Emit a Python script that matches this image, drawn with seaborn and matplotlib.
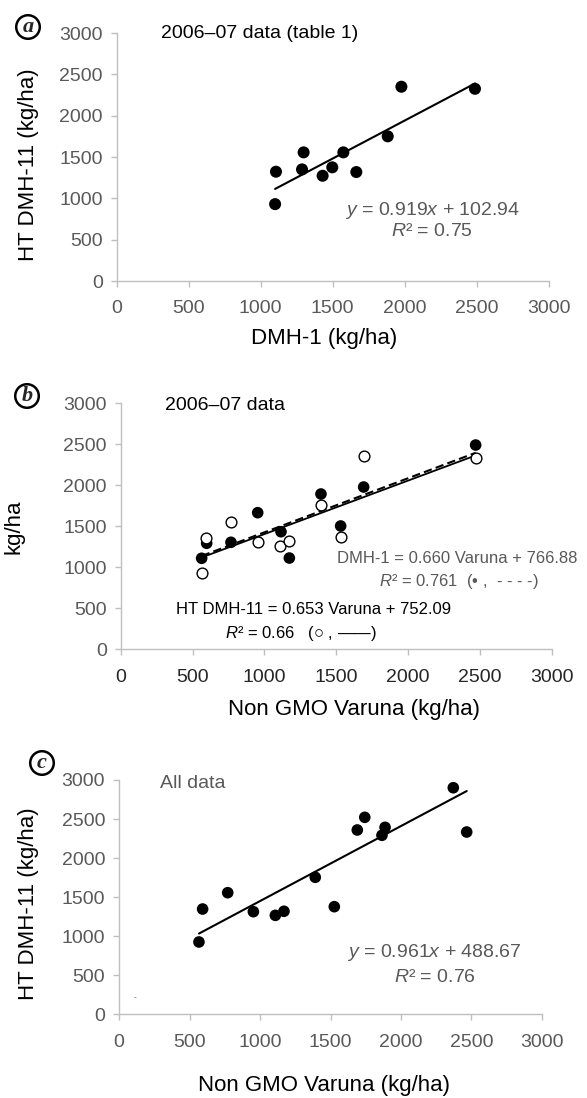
import matplotlib
matplotlib.use("Agg")
import matplotlib.pyplot as plt
import seaborn as sns
import pandas as pd

# panel (a): 2006-07 data (table 1)
dmh1_a = [1100, 1106, 1287, 1298, 1430, 1497, 1574, 1664, 1882, 1977, 2488]
ht_a = [930, 1322, 1350, 1556, 1273, 1375, 1556, 1318, 1750, 2350, 2325]
fit_a = (0.919, 102.94)

# panel (b): 2006-07 data against Non GMO Varuna
varuna_dmh1_b = [563, 598, 767, 953, 1115, 1173, 1393, 1530, 1690, 2469]
dmh1_b = [1110, 1293, 1305, 1666, 1434, 1113, 1894, 1504, 1979, 2491]
varuna_ht_b = [563, 593, 767, 953, 1108, 1173, 1393, 1530, 1690, 2469]
ht_b = [934, 1354, 1556, 1309, 1263, 1321, 1756, 1373, 2357, 2329]
fit_b_dmh1 = (0.660, 766.88)
fit_b_ht = (0.653, 752.09)

# panel (c): all data
varuna_c = [567, 593, 771, 953, 1109, 1170, 1392, 1527, 1690, 1743, 1865, 1887, 2371, 2466]
ht_c = [926, 1348, 1557, 1314, 1267, 1319, 1754, 1378, 2360, 2522, 2292, 2394, 2901, 2334]
fit_c = (0.961, 488.67)

axis_ticks = [0, 500, 1000, 1500, 2000, 2500, 3000]

sns.set_theme(style="ticks")
plt.rcParams['font.family'] = ['Liberation Sans', 'DejaVu Sans']
plt.rcParams['mathtext.fontset'] = 'custom'
plt.rcParams['mathtext.rm'] = 'Liberation Sans'
plt.rcParams['mathtext.it'] = 'Liberation Sans:italic'

GREY = '#595959'
SPINE = '#bfbfbf'

fig = plt.figure(figsize=(5.87, 10.98), dpi=100)
W, H = 587, 1098


def px_axes(x0, x1, y0, y1):
    # axes box from pixel edges (left, right, top, bottom)
    return fig.add_axes([x0 / W, 1 - y1 / H, (x1 - x0) / W, (y1 - y0) / H])


def trend(ax, xs, fit, **kw):
    # trendline from the equation printed on the chart, over the data's x range
    x_end = [min(xs), max(xs)]
    line = pd.DataFrame({'x': x_end, 'y': [fit[0] * v + fit[1] for v in x_end]})
    sns.lineplot(data=line, x='x', y='y', ax=ax, color='black', **kw)


def style(ax, xlabel, ylabel, xlab_pos, ylab_pos, xtick_color=GREY):
    ax.set_xlim(0, 3000)
    ax.set_ylim(0, 3000)
    ax.set_xticks(axis_ticks)
    ax.set_yticks(axis_ticks)
    sns.despine(ax=ax)
    for s in ['left', 'bottom']:
        ax.spines[s].set_color(SPINE)
        ax.spines[s].set_linewidth(1.0)
    ax.tick_params(axis='both', direction='out', length=4, width=1, color=SPINE, labelsize=14, pad=6)
    ax.tick_params(axis='y', labelcolor=GREY)
    ax.tick_params(axis='x', labelcolor=xtick_color, pad=10)
    ax.set_xlabel(xlabel, fontsize=16, color='black')
    ax.set_ylabel(ylabel, fontsize=16, color='black')
    ax.xaxis.set_label_coords(*xlab_pos)
    ax.yaxis.set_label_coords(*ylab_pos)
    ax.set_facecolor('white')


def panel_letter(x, y, letter):
    fig.text(x / W, 1 - y / H, letter, fontsize=16, fontweight='bold', fontstyle='italic',
             family=['Liberation Serif', 'DejaVu Serif'], ha='center', va='center',
             bbox=dict(boxstyle='circle,pad=0.08', fc='white', ec='black', lw=1.8))


# ---------- panel (a)
ax_a = px_axes(116.7, 548.7, 33, 281)
df_a = pd.DataFrame({'DMH-1': dmh1_a, 'HT DMH-11': ht_a})
trend(ax_a, dmh1_a, fit_a, lw=1.5)
sns.scatterplot(data=df_a, x='DMH-1', y='HT DMH-11', ax=ax_a, color='black', s=75,
                edgecolor='none', zorder=3)
style(ax_a, 'DMH-1 (kg/ha)', 'HT DMH-11 (kg/ha)', (0.48, -0.19), (-0.18, 0.47))
ax_a.text(0.1025, 1.0, '2006–07 data (table 1)', transform=ax_a.transAxes, fontsize=14,
          ha='left', va='center', color='black')
ax_a.text(0.730, 0.286, r'$y$ = 0.919$x$ + 102.94', transform=ax_a.transAxes, fontsize=14,
          ha='center', va='center', color=GREY)
ax_a.text(0.730, 0.198, r'$R$² = 0.75', transform=ax_a.transAxes, fontsize=14,
          ha='center', va='center', color=GREY)
panel_letter(28, 27, 'a')

# ---------- panel (b)
ax_b = px_axes(120.7, 552, 403.3, 649.3)
df_b1 = pd.DataFrame({'Varuna': varuna_dmh1_b, 'yield': dmh1_b})
df_b2 = pd.DataFrame({'Varuna': varuna_ht_b, 'yield': ht_b})
trend(ax_b, varuna_dmh1_b, fit_b_dmh1, lw=1.5, ls=(0, (4, 2)))
trend(ax_b, varuna_ht_b, fit_b_ht, lw=1.3)
sns.scatterplot(data=df_b1, x='Varuna', y='yield', ax=ax_b, color='black', s=70,
                edgecolor='none', zorder=3)
sns.scatterplot(data=df_b2, x='Varuna', y='yield', ax=ax_b, facecolor='white', s=60,
                edgecolor='black', linewidth=1.0, zorder=4)
style(ax_b, 'Non GMO Varuna (kg/ha)', 'kg/ha', (0.541, -0.2), (-0.222, 0.5), xtick_color='#262626')
ax_b.text(0.103, 0.993, '2006–07 data', transform=ax_b.transAxes, fontsize=14,
          ha='left', va='center', color='black')
ax_b.text(0.781, 0.371, 'DMH-1 = 0.660 Varuna + 766.88', transform=ax_b.transAxes, fontsize=12,
          ha='center', va='center', color=GREY)
ax_b.text(0.783, 0.274, r'$R$² = 0.761  (• ,  - - - -)', transform=ax_b.transAxes, fontsize=12,
          ha='center', va='center', color=GREY)
ax_b.text(0.447, 0.160, 'HT DMH-11 = 0.653 Varuna + 752.09', transform=ax_b.transAxes, fontsize=12,
          ha='center', va='center', color='black')
ax_b.text(0.419, 0.066, r'$R$² = 0.66   (○ , ——)', transform=ax_b.transAxes, fontsize=12,
          ha='center', va='center', color='black')
panel_letter(27, 396, 'b')

# ---------- panel (c)
ax_c = px_axes(119, 542, 780, 1014.3)
df_c = pd.DataFrame({'Varuna': varuna_c, 'HT DMH-11': ht_c})
trend(ax_c, varuna_c, fit_c, lw=1.5)
sns.scatterplot(data=df_c, x='Varuna', y='HT DMH-11', ax=ax_c, color='black', s=70,
                edgecolor='none', zorder=3)
style(ax_c, 'Non GMO Varuna (kg/ha)', 'HT DMH-11 (kg/ha)', (0.485, -0.26), (-0.19, 0.47))
ax_c.text(0.097, 0.987, 'All data', transform=ax_c.transAxes, fontsize=14,
          ha='left', va='center', color=GREY)
ax_c.text(0.745, 0.262, r'$y$ = 0.961$x$ + 488.67', transform=ax_c.transAxes, fontsize=14,
          ha='center', va='center', color=GREY)
ax_c.text(0.746, 0.159, r'$R$² = 0.76', transform=ax_c.transAxes, fontsize=14,
          ha='center', va='center', color=GREY)
ax_c.text(113, 209, '-', fontsize=6, ha='center', va='center', color=GREY)
panel_letter(42, 763, 'c')

fig.savefig('out.png', dpi=100, facecolor='white')
